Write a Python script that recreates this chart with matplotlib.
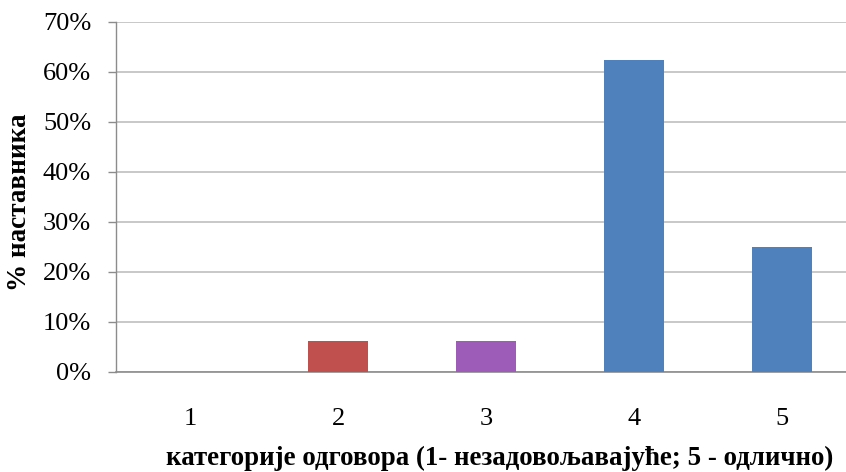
import matplotlib.pyplot as plt
from matplotlib.ticker import PercentFormatter

categories = ['1', '2', '3', '4', '5']
values = [0.0, 6.25, 6.25, 62.5, 25.0]
bar_colors = ['#4F81BD', '#C0504D', '#9C5CB7', '#4F81BD', '#4F81BD']
y_ticks = [0, 10, 20, 30, 40, 50, 60, 70]

plt.rcParams['font.family'] = ['Liberation Serif', 'DejaVu Serif']

fig = plt.figure(figsize=(8.46, 4.72), dpi=100)
ax = fig.add_axes([116 / 846, 100 / 472, 740 / 846, 350 / 472])

x = range(len(categories))
ax.bar(x, values, width=0.405, color=bar_colors, zorder=3)

ax.set_xlim(-0.5, len(categories) - 0.5)
ax.set_ylim(0, 70)
ax.set_yticks(y_ticks)
ax.yaxis.set_major_formatter(PercentFormatter(decimals=0))
ax.set_xticks(list(x))
ax.set_xticklabels(categories)

ax.grid(axis='y', color='#BFBFBF', linewidth=1.2, zorder=0)
ax.set_axisbelow(True)
for s in ['top', 'right']:
    ax.spines[s].set_visible(False)
ax.spines['left'].set_color('#8C8C8C')
ax.spines['bottom'].set_color('#8C8C8C')
ax.spines['left'].set_linewidth(1.0)
ax.spines['bottom'].set_linewidth(1.2)

ax.tick_params(axis='y', length=6, width=1, color='#8C8C8C', labelsize=19, pad=12)
ax.tick_params(axis='x', length=0, labelsize=19, pad=26)

fig.text(20 / 846, 1 - 202 / 472, '% наставника', rotation=90, fontsize=19.5,
         fontweight='bold', ha='center', va='center')
fig.text(500 / 846, 1 - 458 / 472,
         'категорије одговора (1- незадовољавајуће; 5 - одлично)',
         fontsize=19.4, fontweight='bold', ha='center', va='center')

fig.savefig('out.png', dpi=100)
